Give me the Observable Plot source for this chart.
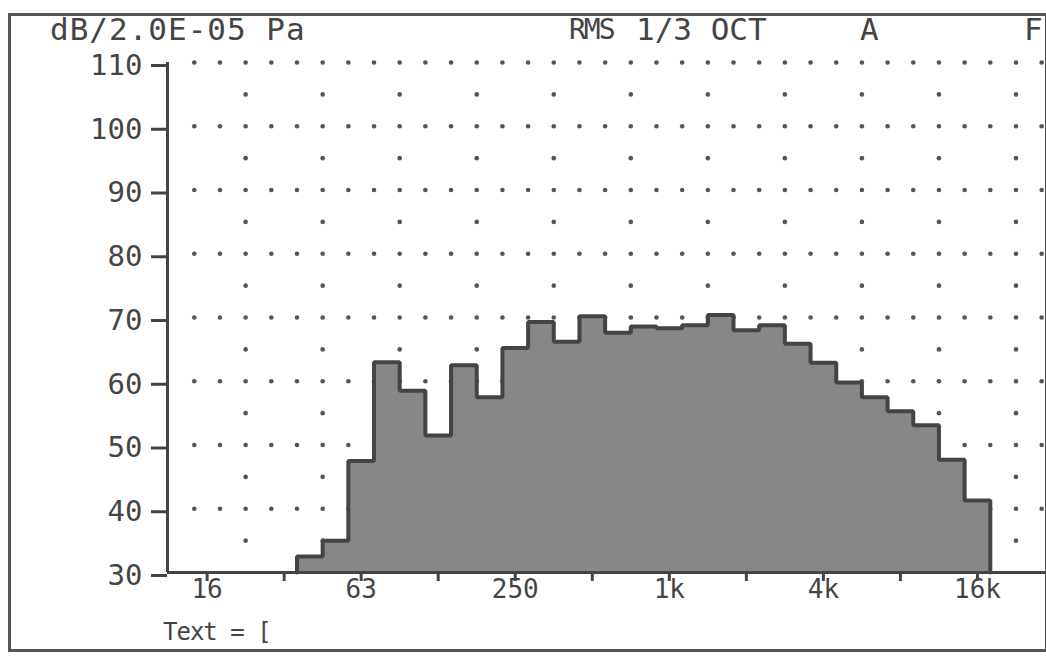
<!DOCTYPE html>
<html><head><meta charset="utf-8">
<script src="https://cdn.jsdelivr.net/npm/d3@7"></script>
<script src="https://cdn.jsdelivr.net/npm/@observablehq/plot@0.6"></script>
<style>
html,body{margin:0;padding:0;background:#fff;}
#wrap{position:relative;width:1046px;height:656px;overflow:hidden;font-family:"DejaVu Sans Mono",monospace;color:#444;}
#frame{position:absolute;left:8px;top:13px;width:1034px;height:633px;border:3px solid #555;box-sizing:content-box;}
.t{position:absolute;white-space:nowrap;font-size:31px;line-height:1;color:#444;}
#chart{position:absolute;left:0;top:0;}
</style></head>
<body>
<div id="wrap">
  <div id="frame"></div>
  <div id="chart"></div>
  <div class="t" style="left:50px;top:14px;letter-spacing:1px;">dB/2.0E-05 Pa</div>
  <div class="t" style="left:569px;top:16px;font-size:28px;letter-spacing:-2px;">RMS</div>
  <div class="t" style="left:636px;top:14px;">1/3 OCT</div>
  <div class="t" style="left:860px;top:14px;">A</div>
  <div class="t" style="left:1024px;top:14px;">F</div>
  <div class="t" style="left:163px;top:620px;font-size:24px;letter-spacing:-1px;">Text = [</div>
</div>
<script>
// 1/3-octave band nominal centre frequencies (Hz)
const bandHz = [40,50,63,80,100,125,160,200,250,315,400,500,630,800,1000,1250,1600,2000,2500,3150,4000,5000,6300,8000,10000,12500,16000];
// band levels, dB re 2.0E-05 Pa (A-weighted, RMS)
const levels = [32.5,35,47.5,63,58.5,51.5,62.5,57.5,65.2,69.3,66.2,70.2,67.6,68.6,68.3,68.8,70.4,68.0,68.8,65.9,62.9,59.8,57.5,55.3,53.1,47.7,41.3];
// axis ticks
const yTicks = [30,40,50,60,70,80,90,100,110];
const xTickHz = [16,31.5,63,125,250,500,1000,2000,4000,8000,16000];
const xLabelHz = [16,63,250,1000,4000,16000];
const xLabels = ["16","63","250","1k","4k","16k"];
// dotted grid levels
const gridLevels = [40,50,60,70,80,90,100,110];
const gridHalfLevels = [35,45,55,65,75,85,95,105];
const xDomain = [10.94, 29780];

const band = f => Math.round(3*Math.log2(f/1000));
const fc = f => 1000*Math.pow(2, band(f)/3);
const edge = k => 1000*Math.pow(2, (k+0.5)/3);

const bars = bandHz.map((f,i)=>({x1: fc(f)*Math.pow(2,-1/6), x2: fc(f)*Math.pow(2,1/6), y: levels[i]}));

const outline = [{x: bars[0].x1, y: 30}];
bars.forEach(b => outline.push({x: b.x1, y: b.y}));
outline.push({x: bars[bars.length-1].x2, y: bars[bars.length-1].y});
outline.push({x: bars[bars.length-1].x2, y: 30});

// grid dot positions at band edges inside the frame
const kMin = Math.ceil(3*Math.log2(xDomain[0]/1000) - 0.5) + 1;
const kMax = Math.floor(3*Math.log2(xDomain[1]/1000) - 0.5);
const gridFull = [];
for (const L of gridLevels) for (let k = kMin; k <= kMax; k++) gridFull.push({x: edge(k), y: L});
const gridHalf = [];
for (const L of gridHalfLevels) for (let k = kMin; k <= kMax; k++) if (((k+14)%3+3)%3 === 0) gridHalf.push({x: edge(k), y: L});

const tickVals = xTickHz.map(fc);
const labelData = xLabelHz.map((f,i)=>({x: fc(f), text: xLabels[i]}));

const chart = Plot.plot({
  width: 1046, height: 656,
  marginLeft: 167, marginRight: 0, marginTop: 62, marginBottom: 84,
  x: {type: "log", domain: xDomain, axis: null},
  y: {domain: [30,110], axis: null},
  style: {fontFamily: "DejaVu Sans Mono", color: "#444", background: "transparent", overflow: "visible"},
  marks: [
    Plot.dot(gridFull, {x: "x", y: "y", r: 2.3, fill: "#555", stroke: null}),
    Plot.dot(gridHalf, {x: "x", y: "y", r: 2.3, fill: "#555", stroke: null}),
    Plot.rect(bars, {x1: "x1", x2: "x2", y1: 30, y2: "y", fill: "#878787", stroke: "#878787", strokeWidth: 1, inset: 0}),
    Plot.line(outline, {x: "x", y: "y", curve: "step-after", stroke: "#444", strokeWidth: 4, strokeLinejoin: "miter"}),
    Plot.ruleX([xDomain[0]], {y1: 30, y2: 110, stroke: "#444", strokeWidth: 3}),
    Plot.ruleY([30], {stroke: "#444", strokeWidth: 3}),
    Plot.axisY({ticks: yTicks, tickSize: 16, tickPadding: 9, fontSize: 29, label: null, strokeWidth: 3, stroke: "#444", dy: 3}),
    Plot.axisX({ticks: tickVals, tickSize: 9, tickFormat: () => "", label: null, strokeWidth: 3, stroke: "#444"}),
    Plot.text(labelData, {x: "x", text: "text", frameAnchor: "bottom", dy: 25, fontSize: 26, fill: "#444"})
  ]
});
document.getElementById("chart").appendChild(chart);
</script>
</body></html>
